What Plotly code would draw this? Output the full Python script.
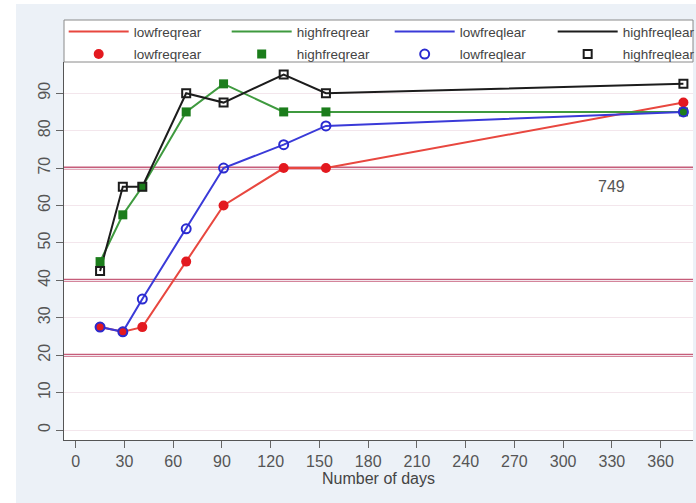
import plotly.graph_objects as go

# Follow-up days and the four series (percent)
days = [15, 29, 41, 68, 91, 128, 154, 374]
lowfreqrear = [27.5, 26.25, 27.5, 45, 60, 70, 70, 87.5]
highfreqrear = [45, 57.5, 65, 85, 92.5, 85, 85, 85]
lowfreqlear = [27.5, 26.25, 35, 53.75, 70, 76.25, 81.25, 85]
highfreqlear = [42.5, 65, 65, 90, 87.5, 95, 90, 92.5]

x_ticks = list(range(0, 361, 30))
y_ticks = list(range(0, 91, 10))
ref_levels = [20, 40, 70]
note_text = "749"
note_pos = (330, 65)

series = [
    ("lowfreqrear", lowfreqrear, "#e8473f", dict(symbol="circle", size=10, color="#e3191f")),
    ("highfreqrear", highfreqrear, "#3f9a3f", dict(symbol="square", size=9, color="#1b7d1b")),
    ("lowfreqlear", lowfreqlear, "#3a3ad8",
     dict(symbol="circle-open", size=9, color="#2a2ad0", line=dict(width=2, color="#2a2ad0"))),
    ("highfreqlear", highfreqlear, "#1c1c1c",
     dict(symbol="square-open", size=8, color="#1c1c1c", line=dict(width=2, color="#1c1c1c"))),
]

fig = go.Figure()

# connecting lines (first legend row)
for name, vals, lc, _ in series:
    fig.add_trace(go.Scatter(x=days, y=vals, mode="lines", name=name,
                             line=dict(color=lc, width=2), legend="legend"))

# markers (second legend row)
for name, vals, _, mk in series:
    fig.add_trace(go.Scatter(x=days, y=vals, mode="markers", name=name,
                             marker=mk, legend="legend2"))

shapes = []
for lv in ref_levels:
    shapes.append(dict(type="line", xref="paper", x0=0, x1=1, yref="y", y0=lv, y1=lv,
                       line=dict(color="#c65d7a", width=3), layer="below"))

# legend frame above the plot area
shapes.append(dict(type="rect", xref="paper", x0=0, x1=1,
                   yref="paper", ysizemode="pixel", yanchor=1, y0=0, y1=42,
                   fillcolor="white", line=dict(color="#8a8a8a", width=1), layer="below"))
# white page edge on the left and top
shapes.append(dict(type="rect", xref="paper", xsizemode="pixel", xanchor=0, x0=-64, x1=-48,
                   yref="paper", y0=-0.3, y1=1.3, fillcolor="white", line=dict(width=0),
                   layer="below"))
shapes.append(dict(type="rect", xref="paper", x0=-0.2, x1=1.1,
                   yref="paper", ysizemode="pixel", yanchor=1, y0=58, y1=70,
                   fillcolor="white", line=dict(width=0), layer="below"))

legend_common = dict(orientation="h", xref="paper", x=-0.0005, xanchor="left",
                     yanchor="middle", bgcolor="rgba(0,0,0,0)", borderwidth=0,
                     itemwidth=60, entrywidthmode="pixels", entrywidth=88,
                     font=dict(family="Liberation Sans, Arial, sans-serif", size=13.5,
                               color="#444444"))

fig.update_layout(
    width=696, height=503,
    margin=dict(l=64, r=3, t=62, b=63, autoexpand=False),
    paper_bgcolor="#ecf1f7",
    plot_bgcolor="white",
    font=dict(family="Liberation Sans, Arial, sans-serif", color="#555555"),
    showlegend=True,
    legend=dict(legend_common, y=1 + (62 - 31.7) / 378),
    legend2=dict(legend_common, y=1 + (62 - 54.3) / 378),
    shapes=shapes,
    annotations=[dict(x=note_pos[0], y=note_pos[1], xref="x", yref="y", text=note_text,
                      showarrow=False, font=dict(size=16, color="#555555"))],
    xaxis=dict(range=[-7.2, 379.9], tickmode="array", tickvals=x_ticks,
               ticks="outside", ticklen=7, tickcolor="#666666", tickwidth=1,
               showline=True, linecolor="#555555", linewidth=1, showgrid=False,
               zeroline=False, tickfont=dict(size=16, color="#555555"),
               title=dict(text="Number of days", font=dict(size=16, color="#444444"),
                          standoff=2)),
    yaxis=dict(range=[-2.67, 98.34], tickmode="array", tickvals=y_ticks,
               ticks="outside", ticklen=7, tickcolor="#666666", tickwidth=1,
               showline=True, linecolor="#555555", linewidth=1,
               showgrid=True, gridcolor="#f3e6ec", gridwidth=1, zeroline=False,
               tickangle=-90, tickfont=dict(size=16, color="#555555")),
)

fig.write_html("out.html")
